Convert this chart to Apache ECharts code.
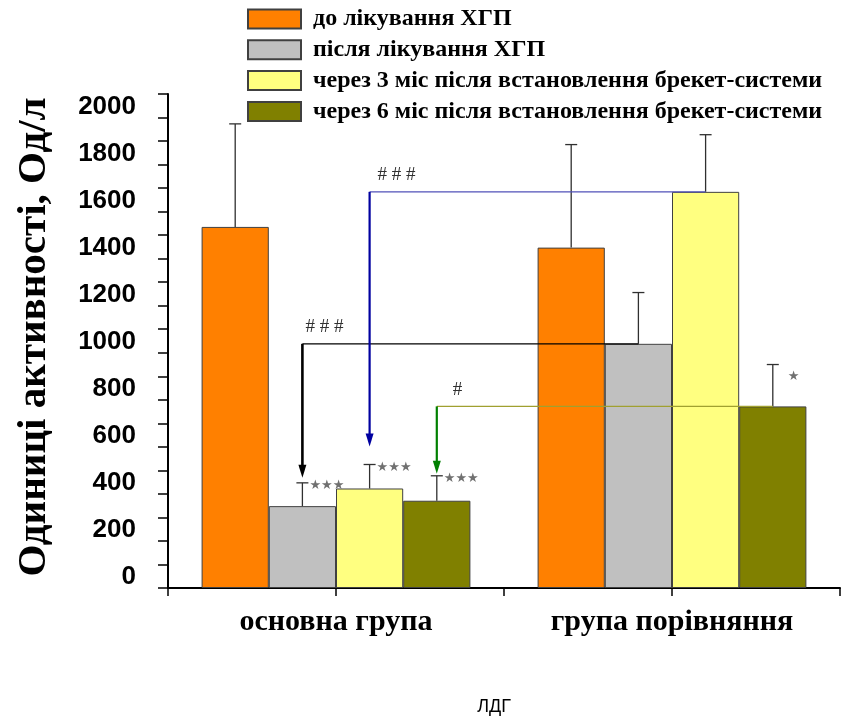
<!DOCTYPE html>
<html>
<head>
<meta charset="utf-8">
<script src="https://cdn.jsdelivr.net/npm/echarts@6/dist/echarts.min.js"></script>
<style>
  html, body { margin: 0; padding: 0; background: #fff; }
  #chart { width: 842px; height: 722px; }
</style>
</head>
<body>
<div id="chart"></div>
<script>
// LDH activity, mean and SD per group and time point
const categories = ['основна група', 'група порівняння'];
const seriesNames = [
  'до лікування ХГП',
  'після лікування ХГП',
  'через 3 міс після встановлення брекет-системи',
  'через 6 міс після встановлення брекет-системи'
];
const beforeTreatment = [1535, 1447];
const afterTreatment  = [348, 1038];
const after3Months    = [423, 1684];
const after6Months    = [371, 772];

const sdBefore   = [438, 438];
const sdAfter    = [99, 218];
const sd3Months  = [102, 243];
const sd6Months  = [106, 178];

const yTickLabels = ['0', '200', '400', '600', '800', '1000', '1200', '1400', '1600', '1800', '2000'];

// significance vs. before-treatment, per group and series
const starMarks = [
  ['', '★★★', '★★★', '★★★'],
  ['', '', '', '★']
];

// between-group comparisons: series index, label, arrow tip value
const bracketSeries = [1, 2, 3];
const bracketLabels = ['# # #', '# # #', '#'];
const bracketTips   = [469, 601, 486];

// styling of the comparison brackets
const arrowColors   = ['#000000', '#0000a0', '#008000'];
const levelColors   = ['#000000', '#5050b8', '#a0a030'];
const arrowWidths   = [2.6, 2.2, 2.2];
const labelShift    = [3, 8, 16];

const colors = ['#ff8000', '#c0c0c0', '#ffff80', '#808000'];
const values = [beforeTreatment, afterTreatment, after3Months, after6Months];
const sds = [sdBefore, sdAfter, sd3Months, sd6Months];

// bar layout: 20% category gap, bars touching
const CATEGORY_GAP = 0.2;
const barCount = values.length;
const barShare = (1 - CATEGORY_GAP) / barCount;
function barCenter(group, s) {
  return group + CATEGORY_GAP / 2 + barShare * (s + 0.5);
}

const errorData = [];
const errorStars = [];
categories.forEach((c, g) => {
  values.forEach((arr, s) => {
    errorData.push([barCenter(g, s), arr[g], arr[g] + sds[s][g]]);
    errorStars.push(starMarks[g][s]);
  });
});

const bracketData = bracketSeries.map((s, k) => [
  barCenter(0, s), barCenter(1, s), values[s][1], bracketTips[k]
]);

const serif = '"Liberation Serif", "Times New Roman", serif';
const sans = '"Liberation Sans", Arial, sans-serif';

const chart = echarts.init(document.getElementById('chart'), null, { renderer: 'canvas' });

const barSeries = seriesNames.map((name, s) => ({
  name,
  type: 'bar',
  xAxisIndex: 0,
  yAxisIndex: 0,
  data: values[s],
  barGap: '0%',
  barCategoryGap: (CATEGORY_GAP * 100) + '%',
  itemStyle: { color: colors[s], borderColor: '#404040', borderWidth: 1 },
  emphasis: { disabled: true },
  z: 2
}));

chart.setOption({
  animation: false,
  backgroundColor: '#ffffff',
  legend: {
    orient: 'vertical',
    left: 247,
    top: 7,
    padding: 0,
    itemWidth: 53,
    itemHeight: 19,
    itemGap: 6.8,
    icon: 'rect',
    selectedMode: false,
    data: seriesNames,
    textStyle: {
      fontFamily: serif, fontWeight: 'bold', fontSize: 24, color: '#000',
      padding: [0, 0, 0, 7]
    }
  },
  grid: { left: 168, right: 2, top: 94, bottom: 134, containLabel: false },
  xAxis: [
    {
      type: 'category',
      data: categories,
      position: 'bottom',
      axisLine: { lineStyle: { color: '#000', width: 2 } },
      axisTick: { show: false },
      axisLabel: { fontFamily: serif, fontWeight: 'bold', fontSize: 30, color: '#000', margin: 19 },
      name: 'ЛДГ',
      nameLocation: 'middle',
      nameGap: 110,
      nameTextStyle: { fontFamily: sans, fontSize: 18, color: '#000', padding: [0, 20, 0, 0] }
    },
    {
      // tick marks at group centres and boundaries
      type: 'category',
      data: ['', '', '', ''],
      position: 'bottom',
      axisLine: { show: false },
      axisTick: { show: true, length: 8, lineStyle: { color: '#000', width: 1.5 } },
      axisLabel: { show: false }
    },
    {
      type: 'value',
      min: 0,
      max: categories.length,
      show: false
    }
  ],
  yAxis: {
    type: 'value',
    min: 0,
    max: 2100,
    interval: 100,
    axisLine: { show: true, lineStyle: { color: '#000', width: 2 } },
    axisTick: { show: true, length: 10, lineStyle: { color: '#000', width: 1.5 } },
    splitLine: { show: false },
    axisLabel: {
      fontFamily: sans,
      fontWeight: 'bold',
      fontSize: 26,
      color: '#000',
      margin: 32,
      verticalAlign: 'bottom',
      lineHeight: 26,
      padding: [0, 0, -2, 0],
      formatter: v => (yTickLabels.indexOf(String(v)) >= 0 ? String(v) : '')
    },
    name: 'Одиниці активності, Од/л',
    nameLocation: 'middle',
    nameRotate: 90,
    nameGap: 113,
    nameTextStyle: { fontFamily: serif, fontWeight: 'bold', fontSize: 41, color: '#000', padding: [0, 0, 0, 8] }
  },
  series: [
    ...barSeries,
    {
      type: 'custom',
      name: 'sd',
      xAxisIndex: 2,
      yAxisIndex: 0,
      data: errorData,
      z: 3,
      silent: true,
      renderItem(params, api) {
        const x = api.value(0);
        const p0 = api.coord([x, api.value(1)]);
        const p1 = api.coord([x, api.value(2)]);
        const half = 6;
        const children = [
          { type: 'line', shape: { x1: p0[0], y1: p0[1], x2: p1[0], y2: p1[1] }, style: { stroke: '#303030', lineWidth: 1.3 } },
          { type: 'line', shape: { x1: p1[0] - half, y1: p1[1], x2: p1[0] + half, y2: p1[1] }, style: { stroke: '#303030', lineWidth: 1.3 } }
        ];
        const mark = errorStars[params.dataIndex];
        if (mark) {
          const single = mark.length === 1;
          children.push({
            type: 'text',
            style: {
              text: mark, x: p1[0] + half + (single ? 9 : 1), y: p1[1] + (single ? 12 : 3),
              fill: '#707070', font: '13px "DejaVu Sans", sans-serif',
              verticalAlign: 'middle', align: 'left'
            }
          });
        }
        return { type: 'group', children };
      }
    },
    {
      type: 'custom',
      name: 'brackets',
      xAxisIndex: 2,
      yAxisIndex: 0,
      data: bracketData,
      z: 4,
      silent: true,
      renderItem(params, api) {
        const k = params.dataIndex;
        const start = api.coord([api.value(0), api.value(2)]);
        const end = api.coord([api.value(1), api.value(2)]);
        const tip = api.coord([api.value(0), api.value(3)]);
        const headLen = 13, headHalf = 4;
        return {
          type: 'group',
          children: [
            { type: 'line', shape: { x1: start[0], y1: start[1], x2: end[0], y2: end[1] }, style: { stroke: levelColors[k], lineWidth: 1.2 } },
            { type: 'line', shape: { x1: start[0], y1: start[1], x2: tip[0], y2: tip[1] - headLen + 2 }, style: { stroke: arrowColors[k], lineWidth: arrowWidths[k] } },
            { type: 'polygon', shape: { points: [[tip[0] - headHalf, tip[1] - headLen], [tip[0] + headHalf, tip[1] - headLen], [tip[0], tip[1]]] }, style: { fill: arrowColors[k] } },
            {
              type: 'text',
              style: {
                text: bracketLabels[k],
                x: start[0] + labelShift[k], y: start[1] - 7,
                fill: '#303030', font: '19px ' + serif,
                verticalAlign: 'bottom', align: 'left'
              }
            }
          ]
        };
      }
    }
  ]
});
</script>
</body>
</html>
